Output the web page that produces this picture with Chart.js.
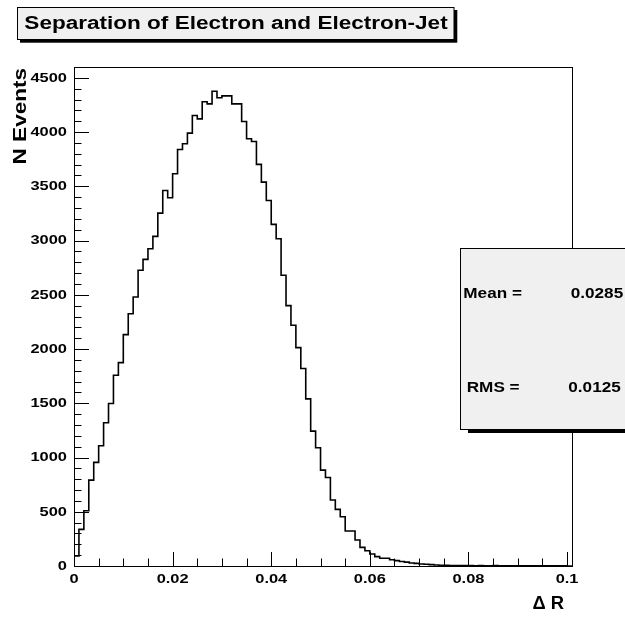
<!DOCTYPE html>
<html>
<head>
<meta charset="utf-8">
<script src="https://cdn.jsdelivr.net/npm/chart.js@4.4.1/dist/chart.umd.min.js"></script>
<style>
  html, body { margin: 0; padding: 0; background: #fff; }
  canvas { display: block; }
</style>
</head>
<body>
<canvas id="chart" width="625" height="617"></canvas>
<script>
// Histogram binning (0 .. 0.101, 101 bins)
const xLow = 0;
const xHigh = 0.101;
const binWidth = 0.001;

// Counts per bin
const counts = [
    92, 338, 509, 792, 955, 1108, 1320, 1498, 1759, 1875,
    2133, 2325, 2480, 2726, 2827, 2925, 3039, 3253, 3462, 3395,
    3616, 3840, 3892, 3990, 4153, 4122, 4279, 4260, 4377, 4316,
    4334, 4334, 4260, 4260, 4098, 3938, 3913, 3702, 3539, 3370,
    3149, 3017, 2680, 2400, 2219, 2013, 1820, 1541, 1243, 1090,
    884, 816, 608, 522, 454, 322, 322, 239, 172, 141,
    110, 86, 71, 71, 58, 50, 42, 36, 28, 24,
    18, 16, 13, 9, 7, 6, 5, 4, 3, 4,
    3, 2, 3, 2, 2, 3, 2, 1, 2, 2,
    1, 2, 1, 2, 1, 1, 2, 1, 1, 1,
    0
];

// Axis ticks and labels
const xMajorTicks = [0, 0.02, 0.04, 0.06, 0.08, 0.1];
const xTickLabels = ['0', '0.02', '0.04', '0.06', '0.08', '0.1'];
const xMinorStep = 0.005;
const yMajorTicks = [0, 500, 1000, 1500, 2000, 2500, 3000, 3500, 4000, 4500];
const yTickLabels = ['0', '500', '1000', '1500', '2000', '2500', '3000', '3500', '4000', '4500'];
const yMinorStep = 100;
const yMax = 4600;

// Texts
const titleText = 'Separation of Electron and Electron-Jet';
const xTitle = '\u0394 R';
const yTitle = 'N Events';
const statNames = ['Mean =', 'RMS ='];
const statValues = ['0.0285', '0.0125'];

// Step points: left edge of every bin, then close on the baseline
const points = [{ x: xLow, y: 0 }];
counts.forEach(function(c, i) {
    points.push({ x: xLow + i * binWidth, y: c });
});
points.push({ x: xHigh, y: 0 });

const FONT = '"Liberation Sans", Arial, Helvetica, sans-serif';
const STRETCH = 1.2;

// Draw bold text, a bit widened along its own direction
function drawText(ctx, text, x, y, size, align, rot, sx) {
    ctx.save();
    ctx.translate(x, y);
    if (rot) ctx.rotate(rot);
    ctx.scale(sx === undefined ? STRETCH : sx, 1);
    ctx.font = 'bold ' + size + 'px ' + FONT;
    ctx.fillStyle = '#000';
    ctx.textAlign = align;
    ctx.textBaseline = 'middle';
    ctx.fillText(text, 0, 0);
    ctx.restore();
}

// ROOT-like frame, inward ticks, labels, title and stats box
const rootStyle = {
    id: 'rootStyle',
    afterDatasetsDraw: function(chart) {
        const ctx = chart.ctx;
        const area = chart.chartArea;
        const xs = chart.scales.x;
        const ys = chart.scales.y;

        ctx.save();
        ctx.strokeStyle = '#000';
        ctx.lineWidth = 1;
        ctx.strokeRect(area.left + 0.5, area.top + 0.5, area.right - area.left, area.bottom - area.top);

        ctx.beginPath();
        for (let v = 0; v <= 0.1 + 1e-9; v += xMinorStep) {
            const px = Math.round(xs.getPixelForValue(v)) + 0.5;
            const major = xMajorTicks.some(function(t) { return Math.abs(t - v) < 1e-9; });
            ctx.moveTo(px, area.bottom);
            ctx.lineTo(px, area.bottom - (major ? 14 : 7.5));
        }
        for (let v = 0; v <= 4500; v += yMinorStep) {
            const py = Math.round(ys.getPixelForValue(v)) + 0.5;
            const major = v % 500 === 0;
            ctx.moveTo(area.left, py);
            ctx.lineTo(area.left + (major ? 15 : 7.5), py);
        }
        ctx.stroke();

        xMajorTicks.forEach(function(v, i) {
            drawText(ctx, xTickLabels[i], xs.getPixelForValue(v), area.bottom + 13, 13.7, 'center');
        });
        yMajorTicks.forEach(function(v, i) {
            drawText(ctx, yTickLabels[i], area.left - 7, ys.getPixelForValue(v), 13.7, 'right');
        });

        drawText(ctx, yTitle, 21, area.top + 1, 18.8, 'right', -Math.PI / 2);
        drawText(ctx, xTitle, 564, 604, 17.5, 'right', 0, 1.05);

        // stats box
        ctx.fillStyle = '#000';
        ctx.fillRect(468, 252, 200, 181);
        ctx.fillStyle = '#f0f0f0';
        ctx.fillRect(460.5, 248.5, 200, 181);
        ctx.strokeRect(460.5, 248.5, 200, 181);
        drawText(ctx, statNames[0], 463.3, 294.3, 14.3, 'left');
        drawText(ctx, statValues[0], 570.7, 294.3, 14.3, 'left');
        drawText(ctx, statNames[1], 466.7, 388.3, 14.3, 'left');
        drawText(ctx, statValues[1], 568.3, 388.3, 14.3, 'left');

        // title box
        ctx.fillStyle = '#000';
        ctx.fillRect(20, 10, 437.3, 32.7);
        ctx.fillStyle = '#f0f0f0';
        ctx.fillRect(17.5, 7.5, 436.5, 32);
        ctx.strokeRect(17.5, 7.5, 436.5, 32);
        drawText(ctx, titleText, 236, 24, 18.8, 'center');
        ctx.restore();
    }
};

new Chart(document.getElementById('chart'), {
    type: 'line',
    data: {
        datasets: [{
            data: points,
            stepped: true,
            borderColor: '#000',
            borderWidth: 1.6,
            pointRadius: 0,
            fill: false
        }]
    },
    options: {
        responsive: false,
        animation: false,
        devicePixelRatio: 1,
        layout: { padding: { left: 74, right: 53, top: 67, bottom: 51 } },
        scales: {
            x: { type: 'linear', min: xLow, max: xHigh, display: false },
            y: { type: 'linear', min: 0, max: yMax, display: false }
        },
        plugins: {
            legend: { display: false },
            tooltip: { enabled: false }
        }
    },
    plugins: [rootStyle]
});
</script>
</body>
</html>
